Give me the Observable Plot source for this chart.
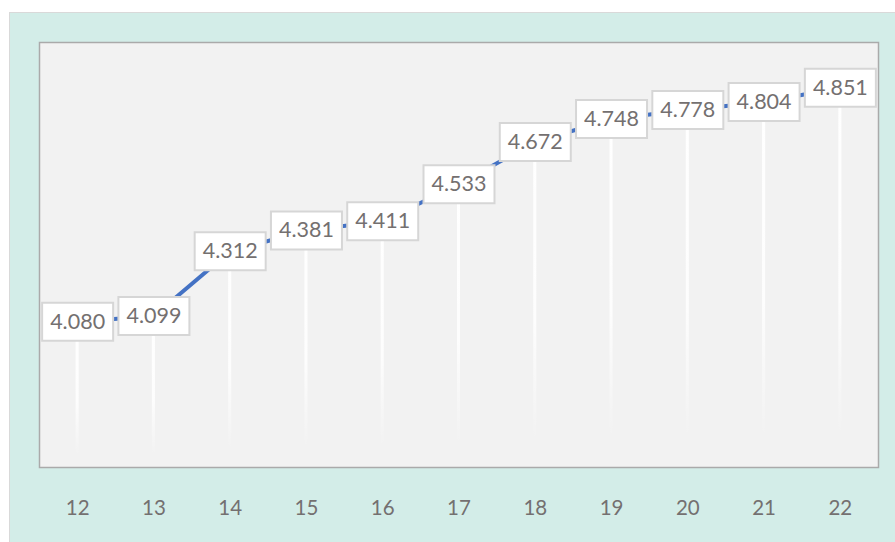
<!DOCTYPE html>
<html>
<head>
<meta charset="utf-8">
<script src="https://cdn.jsdelivr.net/npm/d3@7"></script>
<script src="https://cdn.jsdelivr.net/npm/@observablehq/plot@0.6"></script>
<style>
  html, body { margin: 0; padding: 0; background: #ffffff; }
  #wrap { position: relative; width: 895px; height: 542px; overflow: hidden; background: #ffffff; }
  #panel { position: absolute; left: 9px; top: 12px; width: 900px; height: 540px; background: #d3ede8; border: 1.5px solid #d9d9d9; box-sizing: border-box; }
  #chart { position: absolute; left: 0; top: 0; }
  #chart svg { background: transparent; font-family: Lato, "Open Sans", sans-serif; }
</style>
</head>
<body>
<div id="wrap"><div id="panel"></div><div id="chart"></div></div>
<script>
const years = ["12", "13", "14", "15", "16", "17", "18", "19", "20", "21", "22"];
const values = [4.080, 4.099, 4.312, 4.381, 4.411, 4.533, 4.672, 4.748, 4.778, 4.804, 4.851];

const data = years.map((year, i) => ({year, value: values[i]}));
const fmt = d3.format(".3f");
const boxSymbol = { draw(ctx) { ctx.rect(-35.5, -19, 71, 38); } };

const plot = Plot.plot({
  width: 895,
  height: 542,
  marginLeft: 39,
  marginRight: 17,
  marginTop: 42,
  marginBottom: 75,
  style: { background: "transparent", color: "#6f6b6b", fontFamily: "Lato, 'Open Sans', sans-serif" },
  x: { type: "band", domain: years, padding: 0, round: false },
  y: { domain: [3.6, 5.0], axis: null },
  marks: [
    Plot.frame({ fill: "#f2f2f2", stroke: "#aaaaaa", strokeWidth: 1.5 }),
    () => {
      const svg = d3.create("svg:defs");
      const g = svg.append("linearGradient").attr("id", "dropFade").attr("x1", 0).attr("y1", 0).attr("x2", 0).attr("y2", 1);
      g.append("stop").attr("offset", "0%").attr("stop-color", "#ffffff").attr("stop-opacity", 1);
      g.append("stop").attr("offset", "55%").attr("stop-color", "#ffffff").attr("stop-opacity", 0.85);
      g.append("stop").attr("offset", "92%").attr("stop-color", "#ffffff").attr("stop-opacity", 0);
      return svg.node();
    },
    Plot.barY(data, { x: "year", y1: "value", y2: 3.6, fill: "url(#dropFade)", insetLeft: 36.6, insetRight: 36.6 }),
    Plot.line(data, { x: "year", y: "value", stroke: "#4472c4", strokeWidth: 4 }),
    Plot.dot(data, { x: "year", y: "value", symbol: boxSymbol, r: 3, fill: "#ffffff", stroke: "#d6d6d6", strokeWidth: 2 }),
    Plot.text(data, { x: "year", y: "value", text: d => fmt(d.value), fill: "#747070", fontSize: 21.5, textAnchor: "middle", lineAnchor: "middle" }),
    Plot.axisX({ tickSize: 0, tickPadding: 33, fontSize: 20.5, fill: "#747070", label: null })
  ]
});
document.getElementById("chart").appendChild(plot);
</script>
</body>
</html>
